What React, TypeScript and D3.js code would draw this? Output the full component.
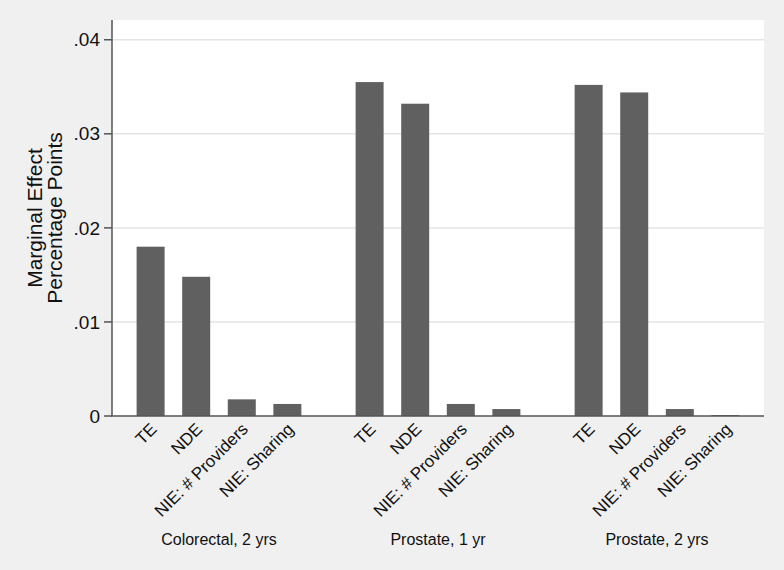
import React from "react";
import * as d3 from "d3";

const groups = ["Colorectal, 2 yrs", "Prostate, 1 yr", "Prostate, 2 yrs"];
const effects = ["TE", "NDE", "NIE: # Providers", "NIE: Sharing"];
const colorectal2 = [0.018, 0.0148, 0.00177, 0.00128];
const prostate1 = [0.0355, 0.0332, 0.00128, 0.00074];
const prostate2 = [0.0352, 0.0344, 0.00074, 0.0001];
const seriesByGroup = [colorectal2, prostate1, prostate2];
const yTicks = [0, 0.01, 0.02, 0.03, 0.04];
const yTickLabels = ["0", ".01", ".02", ".03", ".04"];

const W = 784;
const H = 570;
const left = 112;
const right = 764;
const top = 20;
const bottom = 416;
const font = "'Liberation Sans', Arial, Helvetica, sans-serif";

export default function App() {
  const y = d3.scaleLinear().domain([0, 0.0421]).range([bottom, top]);
  const x0 = d3
    .scaleBand<string>()
    .domain(groups)
    .range([left, right])
    .paddingInner(0.087)
    .paddingOuter(0.032);
  const x1 = d3
    .scaleBand<string>()
    .domain(effects)
    .range([0, x0.bandwidth()])
    .paddingInner(0.386)
    .paddingOuter(0.386);

  return (
    <svg
      width={W}
      height={H}
      style={{ position: "absolute", left: 0, top: 0, background: "#f0f0f0" }}
      fontFamily={font}
    >
      <rect x={0} y={0} width={W} height={H} fill="#f0f0f0" />
      <rect x={left} y={top} width={right - left} height={bottom - top} fill="#ffffff" />
      {yTicks.slice(1).map((t) => (
        <line key={"g" + t} x1={left} x2={right} y1={y(t)} y2={y(t)} stroke="#e4e4e4" strokeWidth={1.5} />
      ))}
      {groups.map((g, gi) =>
        effects.map((e, ei) => {
          const v = seriesByGroup[gi][ei];
          const bx = (x0(g) ?? 0) + (x1(e) ?? 0);
          return (
            <rect
              key={g + e}
              x={bx}
              y={y(v)}
              width={x1.bandwidth()}
              height={bottom - y(v)}
              fill="#606060"
            />
          );
        })
      )}
      <line x1={left} x2={left} y1={top} y2={bottom} stroke="#555" strokeWidth={1.5} />
      <line x1={left - 1} x2={right} y1={bottom} y2={bottom} stroke="#555" strokeWidth={1.5} />
      {yTicks.map((t, i) => (
        <g key={"t" + t}>
          <line x1={left - 8} x2={left} y1={y(t)} y2={y(t)} stroke="#555" strokeWidth={1.5} />
          <text
            x={left - 12}
            y={y(t)}
            dy="0.35em"
            textAnchor="end"
            fontSize={19}
            fill="#111"
          >
            {yTickLabels[i]}
          </text>
        </g>
      ))}
      {groups.map((g, gi) =>
        effects.map((e, ei) => {
          const cx = (x0(g) ?? 0) + (x1(e) ?? 0) + x1.bandwidth() / 2;
          return (
            <text
              key={"l" + g + e}
              transform={`translate(${cx + 3},${bottom + 10}) rotate(-45)`}
              textAnchor="end"
              dy="0.35em"
              fontSize={17}
              fill="#111"
            >
              {e}
            </text>
          );
        })
      )}
      {groups.map((g) => (
        <text
          key={"gl" + g}
          x={(x0(g) ?? 0) + x0.bandwidth() / 2}
          y={545}
          textAnchor="middle"
          fontSize={16}
          fill="#111"
        >
          {g}
        </text>
      ))}
      <text
        transform={`translate(42,${(top + bottom) / 2}) rotate(-90)`}
        textAnchor="middle"
        fontSize={21}
        fill="#111"
      >
        Marginal Effect
      </text>
      <text
        transform={`translate(62,${(top + bottom) / 2}) rotate(-90)`}
        textAnchor="middle"
        fontSize={21}
        fill="#111"
      >
        Percentage Points
      </text>
    </svg>
  );
}
